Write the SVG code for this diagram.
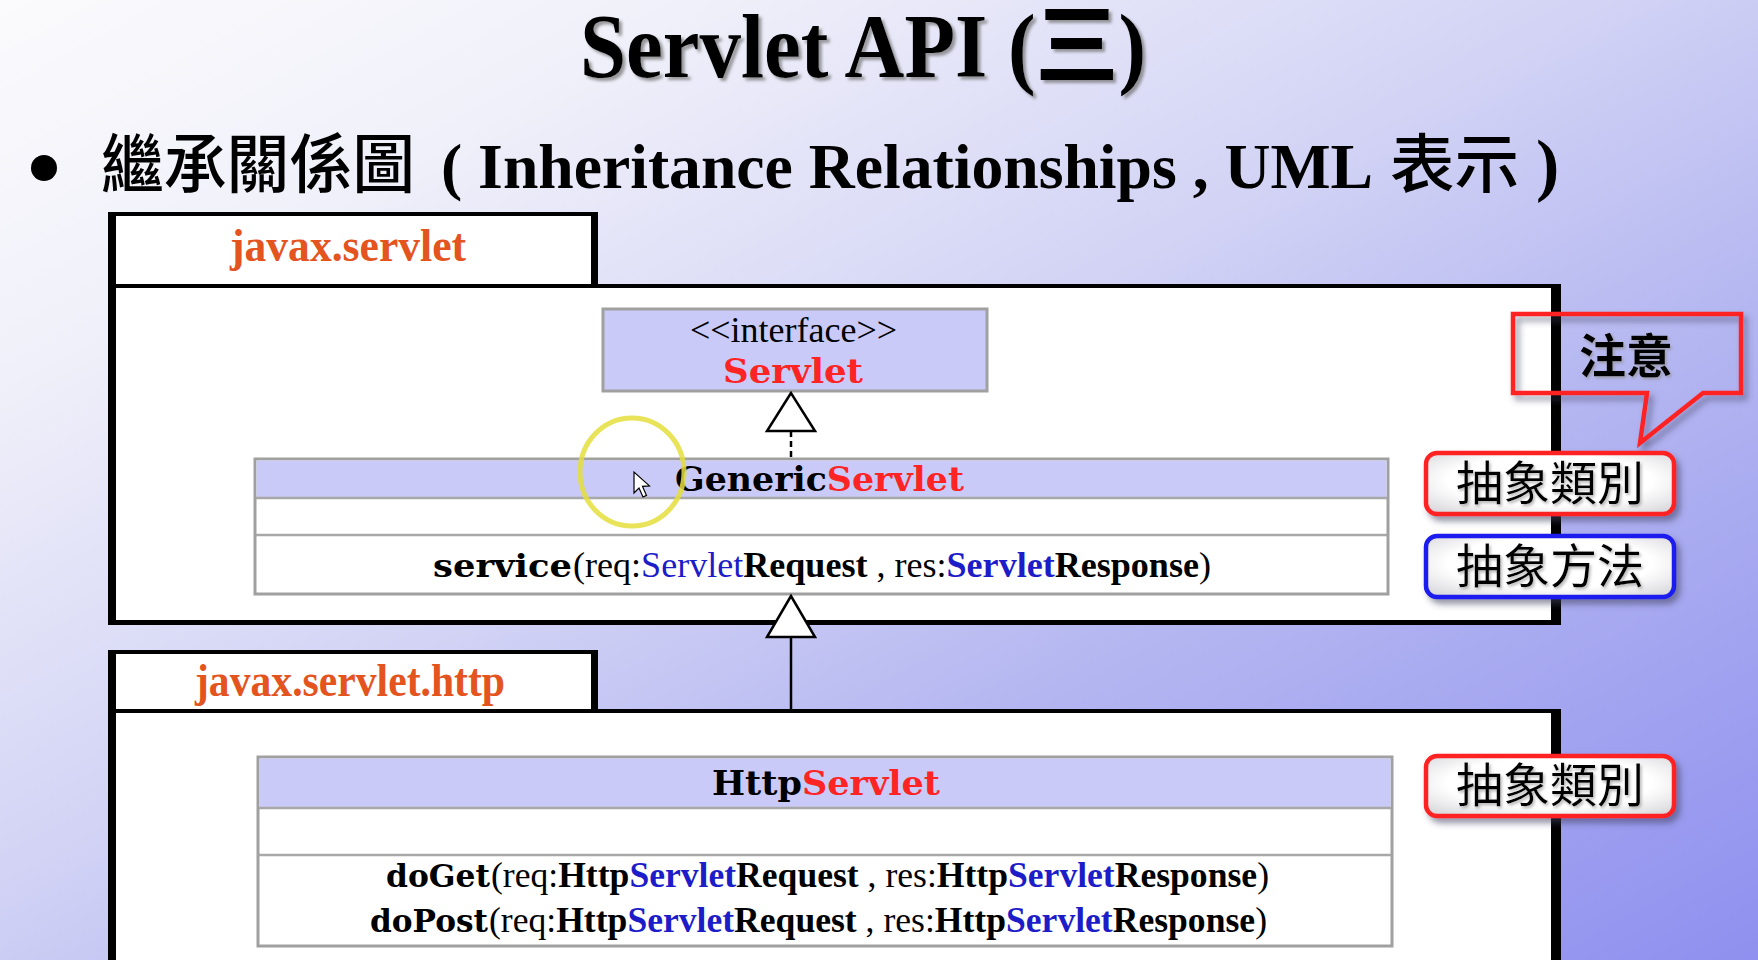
<svg xmlns="http://www.w3.org/2000/svg" width="1758" height="960" viewBox="0 0 1758 960">
<defs>
<linearGradient id="bg" x1="0" y1="0" x2="1" y2="1">
<stop offset="0" stop-color="#fbfbfd"/>
<stop offset="0.2" stop-color="#f0f0fa"/>
<stop offset="0.45" stop-color="#d3d4f5"/>
<stop offset="0.65" stop-color="#b5b7f1"/>
<stop offset="1" stop-color="#8f90ef"/>
</linearGradient>
<radialGradient id="gloss" cx="0.5" cy="0.45" r="0.75">
<stop offset="0.55" stop-color="#ffffff"/>
<stop offset="1" stop-color="#cfcfd4"/>
</radialGradient>
<filter id="shadow" x="-10%" y="-20%" width="130%" height="160%">
<feDropShadow dx="4" dy="5" stdDeviation="3" flood-color="#404060" flood-opacity="0.55"/>
</filter>
<filter id="tshadow" x="-5%" y="-20%" width="115%" height="150%">
<feDropShadow dx="3" dy="3" stdDeviation="1.5" flood-color="#707070" flood-opacity="0.7"/>
</filter>
<filter id="glow" x="-10%" y="-20%" width="120%" height="150%">
<feDropShadow dx="1.5" dy="2" stdDeviation="1.5" flood-color="#909090" flood-opacity="0.7"/>
</filter>
<style>
.ttl{font-family:"Liberation Serif","Noto Sans CJK TC",serif;font-weight:bold;fill:#000}
.cjk{font-family:"Noto Sans CJK TC",sans-serif;font-weight:500;fill:#000}
.pkglbl{font-family:"Liberation Serif",serif;font-weight:bold;fill:#e4541e;font-size:46px}
.hdr{fill:#cacaf8}
.cls{fill:#ffffff;stroke:#a0a0a0;stroke-width:3}
.div{stroke:#a8a8a8;stroke-width:2.5}
.cname{font-family:"DejaVu Serif",serif;font-weight:bold;font-size:34px}
.mname{font-family:"DejaVu Serif",serif;font-weight:bold;font-size:32px;fill:#000}
.sig{font-family:"Liberation Serif",serif;font-size:36px;fill:#000}
.b{font-weight:bold}
.red{fill:#ff2424}
.blue{fill:#1c1cc8}
.edge{stroke:#000;stroke-width:2.5;fill:none}
.tri{fill:#ffffff;stroke:#000;stroke-width:2.5}
.lbl{fill:url(#gloss);stroke-width:4.5}
.lbltxt{font-family:"Noto Sans CJK TC",sans-serif;font-size:47px;fill:#000;text-anchor:middle}
</style>
</defs>

<rect x="0" y="0" width="1758" height="960" fill="url(#bg)"/>

<g id="title">
<text class="ttl" x="580" y="77" font-size="90" textLength="566" lengthAdjust="spacingAndGlyphs" filter="url(#tshadow)">Servlet API (三)</text>
</g>

<g id="subtitle">
<circle cx="44" cy="168" r="13" fill="#000"/>
<text class="cjk" x="101" y="187" font-size="64" textLength="314" lengthAdjust="spacingAndGlyphs">繼承關係圖</text>
<text class="ttl" x="441" y="188" font-size="64" textLength="932" lengthAdjust="spacingAndGlyphs">( Inheritance Relationships , UML</text>
<text class="cjk" x="1390" y="187" font-size="64" textLength="129" lengthAdjust="spacingAndGlyphs">表示</text>
<text class="ttl" x="1536" y="188" font-size="70">)</text>
</g>

<g id="pkg-javax-servlet">
<rect x="108" y="212" width="490" height="76" fill="#000"/>
<rect x="116" y="216" width="475" height="68" fill="#fff"/>
<rect x="108" y="284" width="1453" height="341" fill="#000"/>
<rect x="116" y="288" width="1435" height="332" fill="#fff"/>
<text class="pkglbl" x="230" y="261" textLength="236" lengthAdjust="spacingAndGlyphs">javax.servlet</text>
</g>

<g id="pkg-javax-servlet-http">
<rect x="108" y="650" width="490" height="63" fill="#000"/>
<rect x="116" y="654" width="475" height="55" fill="#fff"/>
<rect x="108" y="709" width="1453" height="260" fill="#000"/>
<rect x="116" y="713" width="1435" height="260" fill="#fff"/>
<text class="pkglbl" x="195" y="696" textLength="310" lengthAdjust="spacingAndGlyphs">javax.servlet.http</text>
</g>

<g id="node-servlet">
<rect x="603" y="309" width="384" height="82" fill="#cacaf8" stroke="#a0a0a0" stroke-width="3"/>
<text class="sig" x="690" y="342" font-size="31" textLength="207" lengthAdjust="spacingAndGlyphs">&lt;&lt;interface&gt;&gt;</text>
<text class="cname red" x="723" y="383" textLength="140" lengthAdjust="spacingAndGlyphs">Servlet</text>
</g>

<g id="node-genericservlet">
<rect class="cls" x="255" y="459" width="1133" height="135"/>
<rect class="hdr" x="256.5" y="460.5" width="1130" height="37.5"/>
<line class="div" x1="256" y1="498" x2="1387" y2="498"/>
<line class="div" x1="256" y1="535" x2="1387" y2="535"/>
<text class="cname" x="675" y="491" textLength="289" lengthAdjust="spacingAndGlyphs">Generic<tspan class="red">Servlet</tspan></text>
<text class="mname" x="433" y="577" font-size="34.5" textLength="139" lengthAdjust="spacingAndGlyphs">service</text>
<text class="sig" x="573" y="577" textLength="638" lengthAdjust="spacingAndGlyphs">(req:<tspan class="blue">Servlet</tspan><tspan class="b">Request</tspan> ,  res:<tspan class="blue b">Servlet</tspan><tspan class="b">Response</tspan>)</text>
</g>

<g id="node-httpservlet">
<rect class="cls" x="258" y="757" width="1134" height="189"/>
<rect class="hdr" x="259.5" y="758.5" width="1131" height="49.5"/>
<line class="div" x1="259" y1="808" x2="1391" y2="808"/>
<line class="div" x1="259" y1="855" x2="1391" y2="855"/>
<text class="cname" x="712" y="795" textLength="228" lengthAdjust="spacingAndGlyphs">Http<tspan class="red">Servlet</tspan></text>
<text class="mname" x="386" y="887" font-size="31.5" textLength="104" lengthAdjust="spacingAndGlyphs">doGet</text>
<text class="sig" x="491" y="887" textLength="778" lengthAdjust="spacingAndGlyphs">(req:<tspan class="b">Http</tspan><tspan class="blue b">Servlet</tspan><tspan class="b">Request</tspan> ,  res:<tspan class="b">Http</tspan><tspan class="blue b">Servlet</tspan><tspan class="b">Response</tspan>)</text>
<text class="mname" x="370" y="932" font-size="30.5" textLength="118" lengthAdjust="spacingAndGlyphs">doPost</text>
<text class="sig" x="489" y="932" textLength="778" lengthAdjust="spacingAndGlyphs">(req:<tspan class="b">Http</tspan><tspan class="blue b">Servlet</tspan><tspan class="b">Request</tspan> ,  res:<tspan class="b">Http</tspan><tspan class="blue b">Servlet</tspan><tspan class="b">Response</tspan>)</text>
</g>

<g id="connectors">
<line class="edge" x1="791" y1="431" x2="791" y2="458" stroke-dasharray="6 4"/>
<polygon class="tri" points="791,393 767,431 815,431"/>
<line class="edge" x1="791" y1="637" x2="791" y2="710"/>
<polygon class="tri" points="791,596 767,637 815,637"/>
</g>

<g id="note-attention">
<path d="M1513,314 H1741 V393 H1703 L1640,443 L1647,393 H1513 Z" fill="none" stroke="#ff2222" stroke-width="4.5" filter="url(#shadow)"/>
<text class="lbltxt" x="1626" y="373" font-size="54" font-weight="bold" filter="url(#glow)">注意</text>
</g>

<g id="note-abstract-class-1">
<rect class="lbl" x="1426" y="453" width="248" height="61" rx="11" stroke="#ff2222" filter="url(#shadow)"/>
<text class="lbltxt" x="1550" y="500" filter="url(#glow)">抽象類別</text>
</g>

<g id="note-abstract-method">
<rect class="lbl" x="1426" y="536" width="248" height="61" rx="11" stroke="#1a1aee" filter="url(#shadow)"/>
<text class="lbltxt" x="1550" y="583" filter="url(#glow)">抽象方法</text>
</g>

<g id="note-abstract-class-2">
<rect class="lbl" x="1426" y="756" width="248" height="60" rx="11" stroke="#ff2222" filter="url(#shadow)"/>
<text class="lbltxt" x="1550" y="802" filter="url(#glow)">抽象類別</text>
</g>

<g id="cursor-highlight">
<ellipse cx="632" cy="472" rx="52" ry="54" fill="none" stroke="#e4de3c" stroke-width="5" opacity="0.85"/>
<path d="M634,472 l0,21 l5,-5 l4,9 l3.5,-1.6 l-4,-9 l7,-0.5 z" fill="#fff" stroke="#000" stroke-width="1.2"/>
</g>
</svg>
